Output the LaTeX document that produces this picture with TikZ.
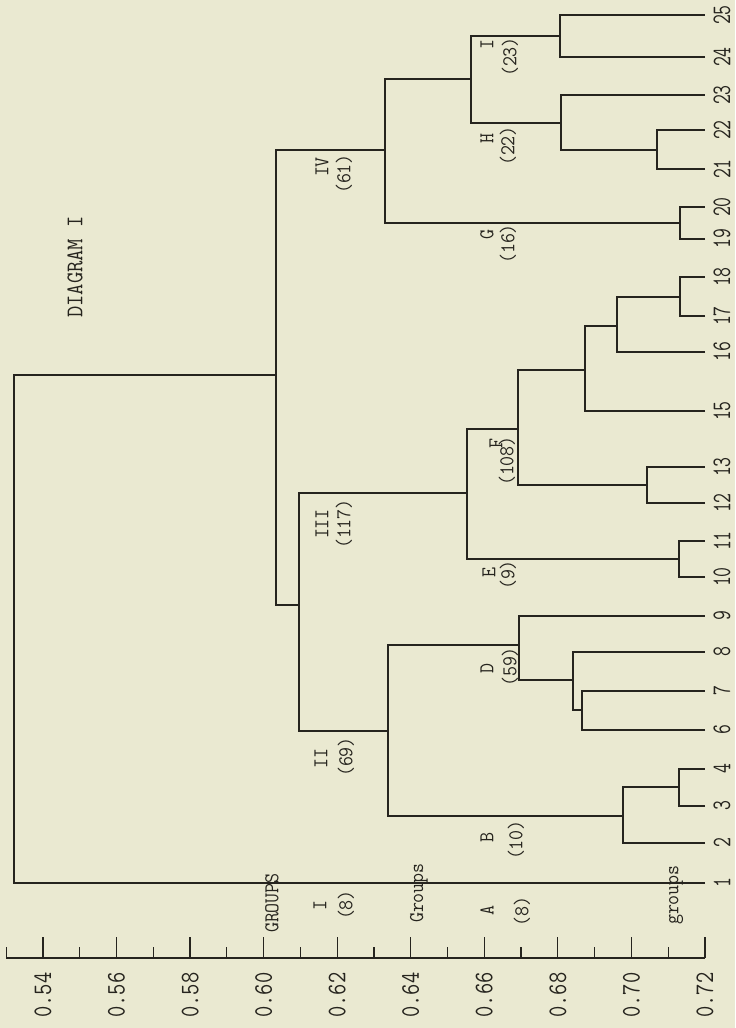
\documentclass[tikz,border=0pt]{standalone}
\usepackage{fontspec}
\definecolor{paper}{RGB}{234,233,209}
\definecolor{ink}{RGB}{38,36,30}

\begin{document}
\begin{tikzpicture}[
  x=0.25mm, y=-0.25mm,
  branch/.style={draw=ink,line width=1pt},
  tick/.style={draw=ink,line width=0.9pt},
  leaflbl/.style={rotate=90,xscale=0.72,text=ink,inner sep=0pt,font=\fontsize{19}{21}\selectfont\ttfamily},
  ticklbl/.style={rotate=90,xscale=0.82,text=ink,inner sep=0pt,font=\fontsize{19}{21}\selectfont\ttfamily},
  grp/.style={rotate=90,xscale=0.92,text=ink,inner sep=0pt,font=\fontsize{15}{17}\selectfont\ttfamily},
  title/.style={rotate=90,xscale=0.92,text=ink,inner sep=0pt,font=\fontsize{17}{19}\selectfont\ttfamily}
]

% page
\fill[paper] (0,0) rectangle (735,1028);
\useasboundingbox (0,0) rectangle (735,1028);

\node[title] (title) at (75,267) {DIAGRAM I};

% ===== LEAVES =====
\foreach \n/\yy in {1/883,2/843,3/806,4/769,6/730,7/691,8/652,9/616,10/577,11/541,
  12/503,13/467,15/411,16/352,17/316,18/277,19/239,20/207,21/169,22/130,23/95,24/57,25/15}{
  \coordinate (l\n) at (705,\yy);
  \node[leaflbl] (lbl\n) at (722,\yy) {\n};
}

% ===== JOINS (bottom half) =====
\coordinate (j34) at (679,787);
\draw[branch] (l3) -- (l3 -| j34) -- (l4 -| j34) -- (l4);

\coordinate (jB) at (623,816);
\draw[branch] (l2) -- (l2 -| jB) -- (j34 -| jB) -- (j34);

\coordinate (j67) at (582,710);
\draw[branch] (l6) -- (l6 -| j67) -- (l7 -| j67) -- (l7);

\coordinate (j678) at (573,680);
\draw[branch] (j67) -- (j67 -| j678) -- (l8 -| j678) -- (l8);

\coordinate (jD) at (519,645);
\draw[branch] (j678) -- (j678 -| jD) -- (l9 -| jD) -- (l9);

\coordinate (jII) at (388,731);
\draw[branch] (jB) -- (jB -| jII) -- (jD -| jII) -- (jD);

\coordinate (jE) at (679,559);
\draw[branch] (l10) -- (l10 -| jE) -- (l11 -| jE) -- (l11);

\coordinate (j1213) at (647,485);
\draw[branch] (l12) -- (l12 -| j1213) -- (l13 -| j1213) -- (l13);

\coordinate (j1718) at (680,297);
\draw[branch] (l17) -- (l17 -| j1718) -- (l18 -| j1718) -- (l18);

\coordinate (j16) at (617,326);
\draw[branch] (l16) -- (l16 -| j16) -- (j1718 -| j16) -- (j1718);

\coordinate (j15) at (585,370);
\draw[branch] (l15) -- (l15 -| j15) -- (j16 -| j15) -- (j16);

\coordinate (jF) at (518,429);
\draw[branch] (j1213) -- (j1213 -| jF) -- (j15 -| jF) -- (j15);

\coordinate (jEF) at (467,493);
\draw[branch] (jE) -- (jE -| jEF) -- (jF -| jEF) -- (jF);

\coordinate (jIII) at (299,605);
\draw[branch] (jII) -- (jII -| jIII) -- (jEF -| jIII) -- (jEF);

% ===== JOINS (top half) =====
\coordinate (jG) at (680,223);
\draw[branch] (l19) -- (l19 -| jG) -- (l20 -| jG) -- (l20);

\coordinate (j2122) at (657,150);
\draw[branch] (l21) -- (l21 -| j2122) -- (l22 -| j2122) -- (l22);

\coordinate (jH) at (561,123);
\draw[branch] (j2122) -- (j2122 -| jH) -- (l23 -| jH) -- (l23);

\coordinate (jI) at (560,36);
\draw[branch] (l24) -- (l24 -| jI) -- (l25 -| jI) -- (l25);

\coordinate (jHI) at (471,79);
\draw[branch] (jH) -- (jH -| jHI) -- (jI -| jHI) -- (jI);

\coordinate (jIV) at (385,150);
\draw[branch] (jG) -- (jG -| jIV) -- (jHI -| jIV) -- (jHI);

\coordinate (jtop) at (276,375);
\draw[branch] (jIII) -- (jIII -| jtop) -- (jIV -| jtop) -- (jIV);

\coordinate (jroot) at (14,629);
\draw[branch] (l1) -- (l1 -| jroot) -- (jtop -| jroot) -- (jtop);

% ===== GROUP LABELS =====
\node[grp] (cut60) at (272,903) {GROUPS};
\node[grp] (cut64) at (419,893) {Groups};
\node[grp] (cut71) at (676,895) {groups};

\node[grp] (gI) at (320,905) {I};     \node[grp] (nI) at (346,905) {(8)};
\node[grp] (gII) at (321,758) {II};   \node[grp] (nII) at (346,757) {(69)};
\node[grp] (gIII) at (322,524) {III}; \node[grp] (nIII) at (344,524) {(117)};
\node[grp] (gIV) at (322,167) {IV};   \node[grp] (nIV) at (344,174) {(61)};

\node[grp] (gA) at (487,910) {A}; \node[grp] (nA) at (522,911) {(8)};
\node[grp] (gB) at (487,837) {B}; \node[grp] (nB) at (516,840) {(10)};
\node[grp] (gD) at (487,668) {D}; \node[grp] (nD) at (510,667) {(59)};
\node[grp] (gE) at (489,572) {E}; \node[grp] (nE) at (508,575) {(9)};
\node[grp] (gF) at (496,443) {F}; \node[grp] (nF) at (507,461) {(108)};
\node[grp] (gG) at (487,234) {G}; \node[grp] (nG) at (508,244) {(16)};
\node[grp] (gH) at (487,138) {H}; \node[grp] (nH) at (508,146) {(22)};
\node[grp] (gI2) at (487,45) {I}; \node[grp] (nI2) at (510,57) {(23)};

% ===== SCALE =====
\coordinate (axL) at (6,958);
\coordinate (axR) at (705,958);
\draw[tick] (axL) -- (axR);
\foreach \lbl [count=\i from 0] in {0.54,0.56,0.58,0.60,0.62,0.64,0.66,0.68,0.70,0.72}{
  \coordinate (maj\i) at (43+73.55*\i,958);
  \coordinate (min\i) at (6.2+73.55*\i,958);
  \draw[tick] (maj\i) -- ++(0,-21);
  \draw[tick] (min\i) -- ++(0,-11);
  \node[ticklbl] (tl\i) at (43+73.55*\i,995) {\lbl};
}

\end{tikzpicture}
\end{document}
